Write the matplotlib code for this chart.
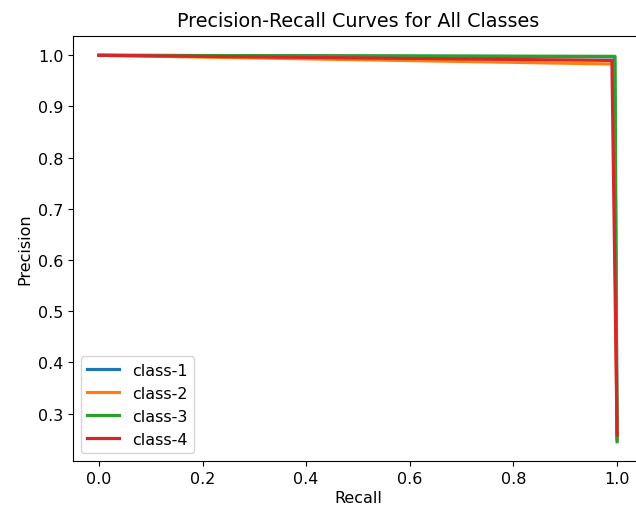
import matplotlib
matplotlib.use("Agg")
import matplotlib.pyplot as plt

plt.rcParams["font.size"] = 11.5

class_names = ["class-1", "class-2", "class-3", "class-4"]

recall_1 = [0.0, 0.995, 1.0]
precision_1 = [1.0, 0.997, 0.25]

recall_2 = [0.0, 0.993, 1.0]
precision_2 = [1.0, 0.983, 0.25]

recall_3 = [0.0, 0.996, 1.0]
precision_3 = [1.0, 0.998, 0.245]

recall_4 = [0.0, 0.99, 1.0]
precision_4 = [1.0, 0.99, 0.258]

recalls = [recall_1, recall_2, recall_3, recall_4]
precisions = [precision_1, precision_2, precision_3, precision_4]

fig = plt.figure(figsize=(6.36, 5.10), dpi=100)
ax = fig.add_axes([73 / 636, 48 / 510, 570 / 636, 425 / 510])

for name, r, p in zip(class_names, recalls, precisions):
    ax.plot(r, p, lw=2.3, label=name)

ax.set_title("Precision-Recall Curves for All Classes", pad=7)
ax.set_xlabel("Recall", labelpad=3)
ax.set_ylabel("Precision")
ax.legend(loc="lower left")

fig.savefig("out.png", dpi=100)
